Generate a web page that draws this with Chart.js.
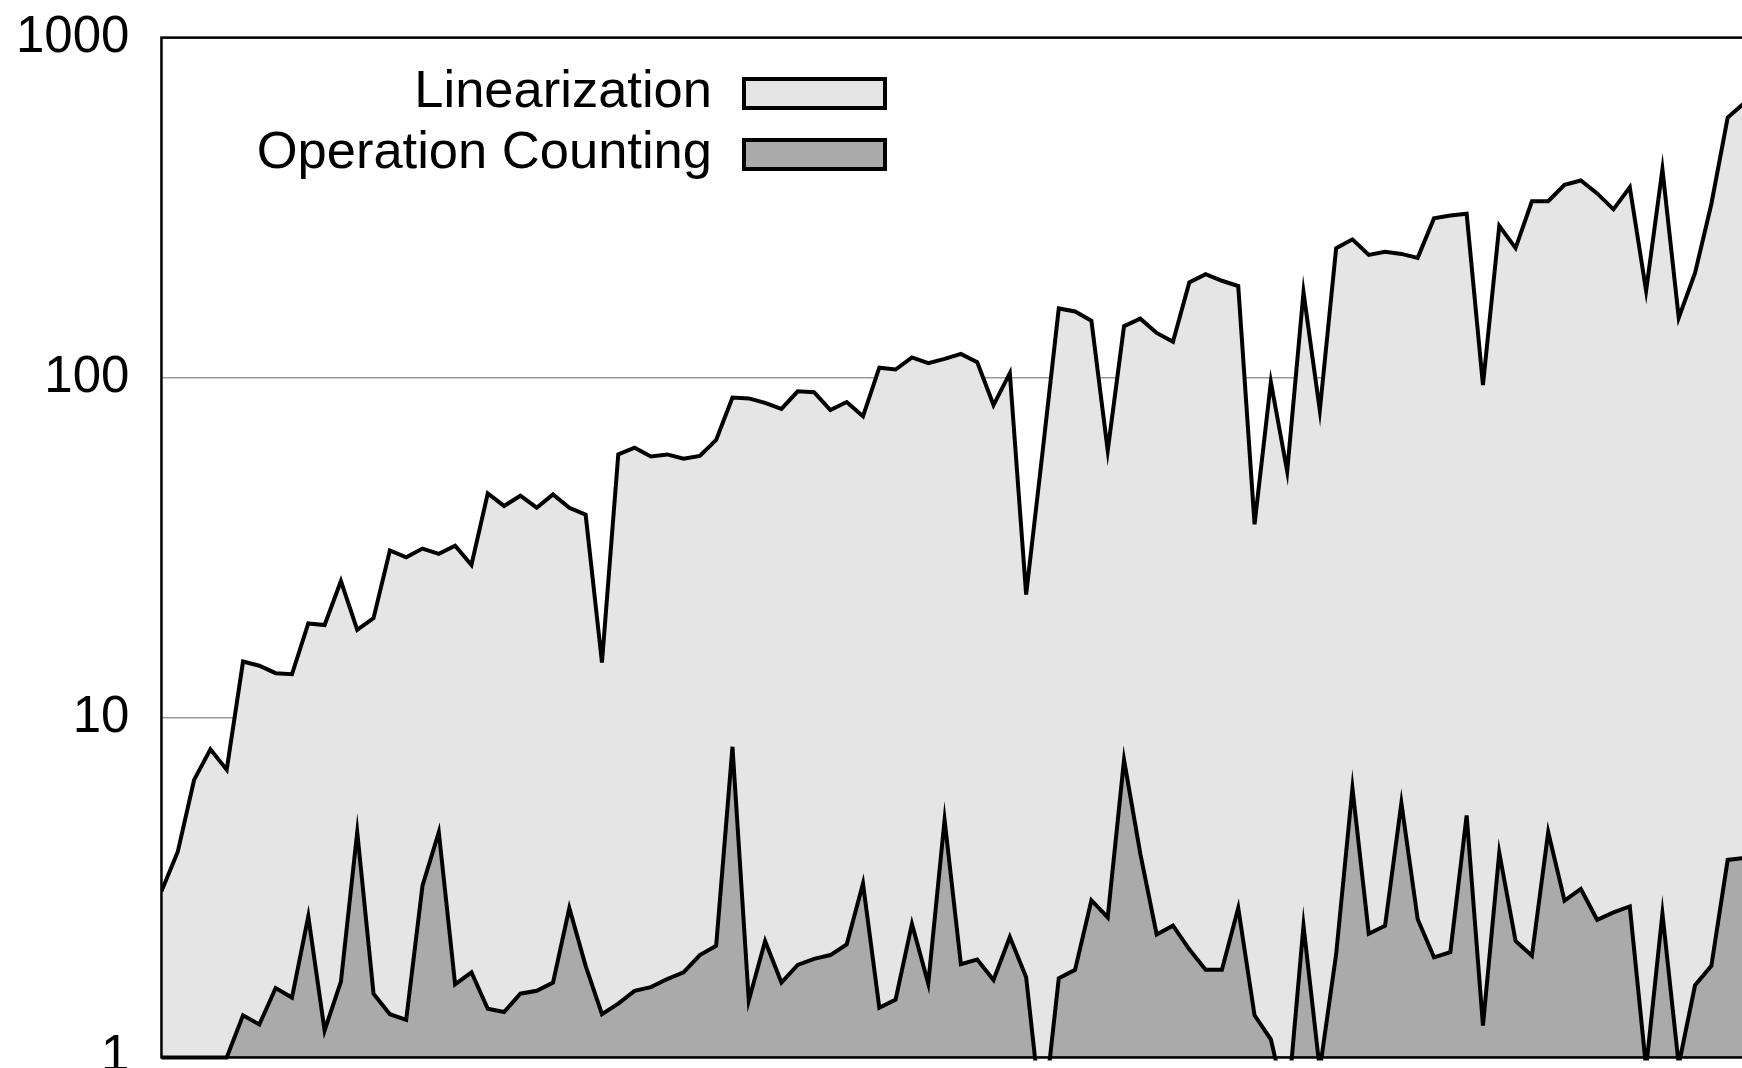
<!DOCTYPE html>
<html>
<head>
<meta charset="utf-8">
<script src="https://cdn.jsdelivr.net/npm/chart.js@4.4.1/dist/chart.umd.min.js"></script>
<style>
  html, body { margin: 0; padding: 0; width: 1742px; height: 1068px; overflow: hidden; background: #fff; }
  #wrap { position: absolute; left: -36px; top: -25px; width: 1800px; height: 1145px; }
  .legend-label { position: absolute; left: 0; width: 712px; text-align: right; font: 52.5px/1 "Liberation Sans", Arial, sans-serif; color: #000; white-space: nowrap; }
  .legend-box { position: absolute; left: 742px; width: 145px; height: 33px; box-sizing: border-box; border: 4px solid #000; }
</style>
</head>
<body>
<div id="wrap"><canvas id="chart" width="1800" height="1145"></canvas></div>
<div class="legend-label" style="top:63px">Linearization</div>
<div class="legend-box" id="box-lin" style="top:77px"></div>
<div class="legend-label" style="top:124px">Operation Counting</div>
<div class="legend-box" id="box-op" style="top:138px"></div>
<script>
// Series names
const seriesNames = ['Linearization', 'Operation Counting'];

// Linearization (upper area), one value per benchmark
const linearization = [
  3.08, 4.03, 6.55, 8.06, 7.02, 14.6, 14.2, 13.5, 13.4, 18.9,
  18.7, 25.2, 18.1, 19.6, 31.0, 29.6, 31.4, 30.3, 32.0, 28.1,
  45.6, 41.9, 44.9, 41.4, 45.3, 41.4, 39.5, 14.5, 59.4, 62.2,
  58.6, 59.4, 57.7, 58.8, 65.5, 87.3, 86.8, 84.2, 80.9, 91.1,
  90.5, 80.2, 84.7, 76.9, 106.9, 105.6, 114.6, 110.2, 113.5, 117.4,
  111, 83, 103, 23, 60, 159.7, 156.4, 146.8, 61, 141.6,
  149, 135.3, 127.4, 190.4, 201.5, 192.6, 185.8, 37, 97, 53,
  178, 80, 240, 255, 229.5, 234.5, 231, 224.9, 294.3, 299.5,
  303.2, 95, 279.4, 240.3, 330, 330, 369, 380, 348, 312.5,
  363, 180, 410, 150, 203, 324, 582, 641
];

// Operation Counting (lower area)
const operationCounting = [
  1, 1, 1, 1, 1, 1.33, 1.25, 1.6, 1.5, 2.6,
  1.2, 1.67, 4.6, 1.54, 1.34, 1.29, 3.2, 4.6, 1.64, 1.78,
  1.39, 1.36, 1.54, 1.57, 1.66, 2.75, 1.86, 1.34, 1.44, 1.57,
  1.61, 1.70, 1.78, 2.0, 2.13, 8.2, 1.47, 2.2, 1.66, 1.87,
  1.95, 2.0, 2.15, 3.25, 1.4, 1.48, 2.47, 1.65, 5.0, 1.88,
  1.94, 1.69, 2.26, 1.72, 0.63, 1.71, 1.81, 2.9, 2.58, 7.5,
  3.97, 2.3, 2.44, 2.08, 1.81, 1.81, 2.75, 1.33, 1.13, 0.7,
  2.44, 0.92, 2.01, 6.2, 2.31, 2.44, 5.6, 2.55, 1.97, 2.04,
  5.15, 1.24, 4.0, 2.2, 1.99, 4.6, 2.89, 3.13, 2.54, 2.67,
  2.78, 0.93, 2.65, 0.95, 1.63, 1.86, 3.81, 3.86
];

// Benchmark index along x
const categories = linearization.map((_, i) => i);

// Y axis tick labels (log scale)
const yTicks = [1, 10, 100, 1000];

const colors = {
  lin: '#e5e5e5',
  op: '#aaaaaa',
  line: '#000000',
  grid: '#999999'
};

const fontFamily = '"Liberation Sans", Arial, sans-serif';

document.getElementById('box-lin').style.background = colors.lin;
document.getElementById('box-op').style.background = colors.op;

// Frame round the plot area, drawn over the fills
const framePlugin = {
  id: 'frame',
  afterDatasetsDraw(chart) {
    const { ctx, chartArea } = chart;
    ctx.save();
    ctx.strokeStyle = '#000';
    ctx.lineWidth = 2.5;
    ctx.strokeRect(chartArea.left, chartArea.top, chartArea.right - chartArea.left, chartArea.bottom - chartArea.top);
    ctx.restore();
  }
};

function toPoints(values) {
  return values.map((v, i) => ({ x: categories[i], y: v }));
}

const ctx = document.getElementById('chart').getContext('2d');
new Chart(ctx, {
  type: 'line',
  data: {
    datasets: [
      {
        label: seriesNames[0],
        data: toPoints(linearization),
        backgroundColor: colors.lin,
        borderColor: colors.line,
        borderWidth: 4,
        borderJoinStyle: 'miter',
        pointRadius: 0,
        tension: 0,
        fill: 'origin',
        order: 1,
        clip: { left: 0, top: 0, right: 0, bottom: 3 }
      },
      {
        label: seriesNames[1],
        data: toPoints(operationCounting),
        backgroundColor: colors.op,
        borderColor: colors.line,
        borderWidth: 4,
        borderJoinStyle: 'miter',
        pointRadius: 0,
        tension: 0,
        fill: 'origin',
        order: 0,
        clip: { left: 0, top: 0, right: 0, bottom: 3 }
      }
    ]
  },
  options: {
    responsive: false,
    animation: false,
    devicePixelRatio: 1,
    layout: { padding: { left: 20, top: 13, right: 20, bottom: 25 } },
    plugins: {
      legend: { display: false },
      tooltip: { enabled: false }
    },
    scales: {
      x: {
        type: 'linear',
        display: false,
        min: categories[0],
        max: categories[categories.length - 1]
      },
      y: {
        type: 'logarithmic',
        min: yTicks[0],
        max: yTicks[yTicks.length - 1],
        afterBuildTicks: axis => { axis.ticks = yTicks.map(v => ({ value: v })); },
        border: { display: false },
        grid: { color: colors.grid, lineWidth: 1.5, drawTicks: false },
        ticks: {
          padding: 32,
          color: '#000',
          font: { family: fontFamily, size: 51 },
          callback: v => String(v)
        }
      }
    }
  },
  plugins: [framePlugin]
});
</script>
</body>
</html>
